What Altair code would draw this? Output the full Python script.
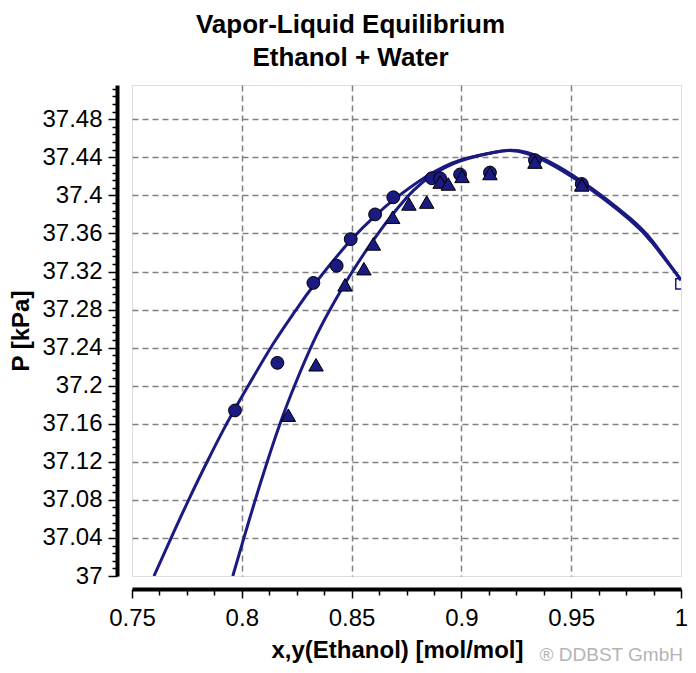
import altair as alt
import pandas as pd

# ---- data ----
# bubble-point (liquid) curve
bub_x = [0.7600, 0.7688, 0.7764, 0.7840, 0.7924, 0.8022, 0.8143, 0.8242, 0.8326, 0.8493,
         0.8614, 0.8690, 0.8842, 0.8994, 0.9145, 0.9299, 0.9540, 0.9768, 0.9873, 1.0]
bub_p = [37.000, 37.045, 37.083, 37.119, 37.157, 37.197, 37.244, 37.278, 37.305, 37.352,
         37.380, 37.395, 37.420, 37.437, 37.445, 37.445, 37.416, 37.376, 37.351, 37.311]
# dew-point (vapor) curve
dew_y = [0.7959, 0.8007, 0.8060, 0.8113, 0.8174, 0.8242, 0.8326, 0.8402, 0.8493, 0.8599,
         0.8690, 0.8781, 0.8872, 0.8994, 0.9145, 0.9299, 0.9540, 0.9768, 0.9873, 1.0]
dew_p = [37.000, 37.038, 37.079, 37.118, 37.160, 37.201, 37.246, 37.280, 37.316, 37.353,
         37.381, 37.405, 37.422, 37.436, 37.445, 37.444, 37.414, 37.374, 37.349, 37.311]
# experimental liquid points (circles)
liq_x = [0.7969, 0.8162, 0.8326, 0.8432, 0.8496, 0.8607, 0.8690, 0.8865, 0.8903, 0.8994,
         0.9130, 0.9335, 0.9548]
liq_p = [37.174, 37.224, 37.308, 37.326, 37.354, 37.380, 37.398, 37.418, 37.418, 37.422,
         37.424, 37.437, 37.412]
# experimental vapor points (triangles)
vap_y = [0.8212, 0.8338, 0.8470, 0.8556, 0.8599, 0.8687, 0.8761, 0.8842, 0.8903, 0.8940,
         0.9003, 0.9130, 0.9335, 0.9548]
vap_p = [37.169, 37.222, 37.306, 37.323, 37.349, 37.377, 37.391, 37.393, 37.414, 37.412,
         37.420, 37.423, 37.435, 37.411]
# pure component vapor pressure (open square)
pure_x = [1.0]
pure_p = [37.307]

# axis ticks
x_major = [0.75, 0.8, 0.85, 0.9, 0.95, 1.0]
x_grid = [0.8, 0.85, 0.9, 0.95]
x_minor = [round(0.75 + 0.0125 * i, 4) for i in range(21) if i % 4 != 0]
y_major = [round(37 + 0.04 * i, 2) for i in range(13)]
y_grid = y_major[1:]
y_minor = [round(37 + 0.008 * i, 3) for i in range(65) if i % 5 != 0]

X_DOMAIN = [0.75, 1.0]
Y_DOMAIN = [37.0, 37.516]
NAVY = "#1a1a80"
FONT = "Liberation Sans"

curves = pd.DataFrame({
    "x": bub_x + dew_y,
    "P": bub_p + dew_p,
    "series": ["bubble"] * len(bub_x) + ["dew"] * len(dew_y),
})
liq = pd.DataFrame({"x": liq_x, "P": liq_p})
vap = pd.DataFrame({"x": vap_y, "P": vap_p})
pure = pd.DataFrame({"x": pure_x, "P": pure_p})

xs = alt.Scale(domain=X_DOMAIN, nice=False, zero=False)
ys = alt.Scale(domain=Y_DOMAIN, nice=False, zero=False)

ax_x_major = alt.Axis(orient="bottom", values=x_major, format="~g", grid=False, offset=13,
                      domainColor="black", domainWidth=4, tickColor="black", tickWidth=1.5,
                      tickSize=9, labelFont=FONT, labelFontSize=24, labelColor="black",
                      labelPadding=8, labelFlush=False,
                      title="x,y(Ethanol) [mol/mol]", titleFont=FONT, titleFontSize=24,
                      titleFontWeight="bold", titleColor="black", titlePadding=8,
                      titleX=265, titleAlign="center")
ax_y_major = alt.Axis(orient="left", values=y_major, format="~g", grid=False, offset=15,
                      domainColor="black", domainWidth=4, tickColor="black", tickWidth=1.5,
                      tickSize=9, labelFont=FONT, labelFontSize=24, labelColor="black",
                      labelPadding=6, labelFlush=False,
                      title="P [kPa]", titleFont=FONT, titleFontSize=24,
                      titleFontWeight="bold", titleColor="black", titlePadding=8)
ax_x_minor = alt.Axis(orient="bottom", values=x_minor, grid=False, offset=13, domain=False,
                      labels=False, tickColor="black", tickWidth=1.5, tickSize=6, title=None)
ax_y_minor = alt.Axis(orient="left", values=y_minor, grid=False, offset=15, domain=False,
                      labels=False, tickColor="black", tickWidth=1.5, tickSize=5, title=None)
ax_x_grid = alt.Axis(orient="bottom", values=x_grid, grid=True, gridColor="#808080",
                     gridDash=[6, 4], gridWidth=1.5, domain=False, labels=False,
                     ticks=False, title=None)
ax_y_grid = alt.Axis(orient="left", values=y_grid, grid=True, gridColor="#808080",
                     gridDash=[6, 4], gridWidth=1.5, domain=False, labels=False,
                     ticks=False, title=None)

lines = alt.Chart(curves).mark_line(color=NAVY, strokeWidth=3, interpolate="natural",
                                    clip=True).encode(
    x=alt.X("x:Q", scale=xs, axis=ax_x_major),
    y=alt.Y("P:Q", scale=ys, axis=ax_y_major),
    detail="series:N",
)
minor = alt.Chart(curves).mark_line(opacity=0).encode(
    x=alt.X("x:Q", scale=xs, axis=ax_x_minor),
    y=alt.Y("P:Q", scale=ys, axis=ax_y_minor),
    detail="series:N",
)
grid = alt.Chart(curves).mark_line(opacity=0).encode(
    x=alt.X("x:Q", scale=xs, axis=ax_x_grid),
    y=alt.Y("P:Q", scale=ys, axis=ax_y_grid),
    detail="series:N",
)
circles = alt.Chart(liq).mark_point(shape="circle", filled=True, fill=NAVY, stroke="black",
                                    strokeWidth=1, size=165, opacity=1).encode(
    x=alt.X("x:Q", scale=xs, axis=None),
    y=alt.Y("P:Q", scale=ys, axis=None),
)
triangles = alt.Chart(vap).mark_point(shape="triangle-up", filled=True, fill=NAVY,
                                      stroke="black", strokeWidth=1, size=210,
                                      opacity=1).encode(
    x=alt.X("x:Q", scale=xs, axis=None),
    y=alt.Y("P:Q", scale=ys, axis=None),
)
square = alt.Chart(pure).mark_point(shape="square", filled=False, stroke=NAVY,
                                    strokeWidth=1.5, size=110, opacity=1, clip=True).encode(
    x=alt.X("x:Q", scale=xs, axis=None),
    y=alt.Y("P:Q", scale=ys, axis=None),
)
credit = alt.Chart(pd.DataFrame({"t": ["\u00ae DDBST GmbH"]})).mark_text(
    align="right", baseline="alphabetic", font=FONT, fontSize=19, color="#b4b4b4"
).encode(x=alt.value(551), y=alt.value(576), text="t:N")

chart = alt.layer(grid, minor, lines, circles, triangles, square, credit).resolve_axis(
    x="independent", y="independent"
).properties(
    width=549, height=491,
    autosize=alt.AutoSizeParams(type="none"),
    padding={"left": 124, "top": 77, "right": 7, "bottom": 89},
    title=alt.TitleParams(
        text=["Vapor-Liquid Equilibrium", "Ethanol + Water"],
        font=FONT, fontSize=26, fontWeight="bold", color="black",
        anchor="middle", frame="group", dx=-56, offset=14, lineHeight=33,
    ),
).configure_view(stroke="black", strokeWidth=1.5).configure(background="white")

chart.save("out.html", embed_options={"renderer": "svg", "actions": False})
